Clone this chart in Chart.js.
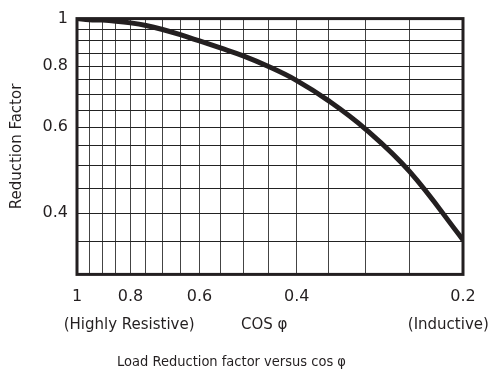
<!DOCTYPE html>
<html>
<head>
<meta charset="utf-8">
<script src="https://cdn.jsdelivr.net/npm/chart.js@4.4.1/dist/chart.umd.min.js"></script>
<style>
  html, body { margin: 0; padding: 0; background: #fff; }
  #wrap { width: 491px; height: 375px; }
</style>
</head>
<body>
<div id="wrap"><canvas id="grafico"></canvas></div>
<script>
// cos phi along the bottom, reduction factor
const cosPhi = [1, 0.95, 0.9, 0.85, 0.8, 0.75, 0.7, 0.65, 0.6, 0.55, 0.5, 0.45, 0.4, 0.35, 0.3, 0.25, 0.2];
const reduccion = [1, 0.995, 0.993, 0.988, 0.98, 0.968, 0.95, 0.927, 0.9, 0.871, 0.839, 0.798, 0.747, 0.679, 0.594, 0.487, 0.353];

// grid lines every 0.05 and the few labelled values
const xGrid = [1, 0.95, 0.9, 0.85, 0.8, 0.75, 0.7, 0.65, 0.6, 0.55, 0.5, 0.45, 0.4, 0.35, 0.3, 0.25, 0.2];
const yGrid = [1, 0.95, 0.9, 0.85, 0.8, 0.75, 0.7, 0.65, 0.6, 0.55, 0.5, 0.45, 0.4, 0.35, 0.3];
const xLabels = [1, 0.8, 0.6, 0.4, 0.2];
const yLabels = [1, 0.8, 0.6, 0.4];

const tinta = '#231f20';

const marco = {
    id: 'marco',
    afterDatasetsDraw(chart) {
        const a = chart.chartArea;
        const c = chart.ctx;
        c.save();
        c.strokeStyle = tinta;
        c.lineWidth = 3;
        c.strokeRect(a.left, a.top, a.right - a.left, a.bottom - a.top);

        // second row under the axis
        c.fillStyle = tinta;
        c.font = '15px "DejaVu Sans"';
        c.textAlign = 'center';
        c.textBaseline = 'middle';
        const w = a.right - a.left;
        const y = a.bottom + 51;
        c.fillText('(Highly Resistive)', a.left + w * 0.135, y);
        c.fillText('COS φ', a.left + w * 0.485, y);
        c.fillText('(Inductive)', a.left + w * 0.962, y);
        c.restore();
    }
};

const ctx = document.getElementById('grafico').getContext('2d');

const config = {
    type: 'line',
    data: {
        datasets: [{
            label: 'Reduction Factor',
            data: cosPhi.map((c, i) => ({ x: c, y: reduccion[i] })),
            borderColor: tinta,
            borderWidth: 5,
            pointRadius: 0,
            fill: false,
            tension: 0.4
        }]
    },
    options: {
        responsive: true,
        maintainAspectRatio: false,
        animation: false,
        layout: { padding: { left: 0, right: 28, top: 18, bottom: 0 } },
        plugins: {
            legend: { display: false },
            tooltip: { enabled: false },
            title: {
                display: true,
                position: 'bottom',
                text: 'Load Reduction factor versus cos φ',
                color: tinta,
                font: { family: '"Liberation Sans Narrow", "DejaVu Sans Condensed", sans-serif', size: 14.5, weight: 'normal' },
                padding: { top: 34, bottom: 4 }
            }
        },
        scales: {
            x: {
                type: 'logarithmic',
                reverse: true,
                min: 0.2,
                max: 1,
                afterBuildTicks: s => { s.ticks = xGrid.map(v => ({ value: v })); },
                grid: { color: '#444', lineWidth: 1, drawTicks: false },
                border: { display: false },
                ticks: {
                    autoSkip: false,
                    maxRotation: 0,
                    padding: 13,
                    color: tinta,
                    font: { family: '"DejaVu Sans"', size: 16 },
                    callback: v => xLabels.includes(v) ? String(v) : ''
                }
            },
            y: {
                type: 'logarithmic',
                min: 0.3,
                max: 1,
                afterBuildTicks: s => { s.ticks = yGrid.map(v => ({ value: v })); },
                afterFit: s => { s.width = 77; },
                grid: { color: '#222', lineWidth: 1, drawTicks: false },
                border: { display: false },
                title: {
                    display: true,
                    text: 'Reduction Factor',
                    color: tinta,
                    font: { family: '"DejaVu Sans"', size: 15 },
                    padding: { top: 8, bottom: 0 }
                },
                ticks: {
                    autoSkip: false,
                    padding: 9,
                    color: tinta,
                    font: { family: '"DejaVu Sans"', size: 16 },
                    callback: v => yLabels.includes(v) ? String(v) : ''
                }
            }
        }
    },
    plugins: [marco]
};

const miGrafico = new Chart(ctx, config);
</script>
</body>
</html>
